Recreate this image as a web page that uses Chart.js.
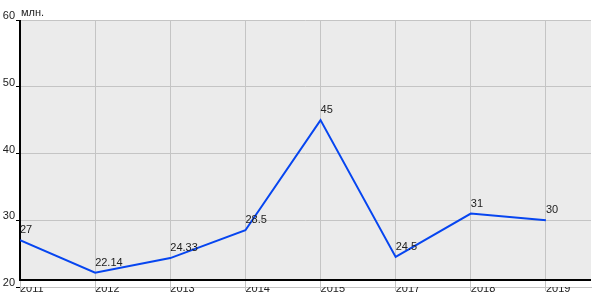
<!DOCTYPE html>
<html>
<head>
<meta charset="utf-8">
<script src="https://cdn.jsdelivr.net/npm/chart.js"></script>
<style>
  html, body { margin: 0; padding: 0; background: #fff; }
  #wrap { width: 600px; height: 300px; }
</style>
</head>
<body>
<div id="wrap"><canvas id="chart"></canvas></div>
<script>
// chart data
const years = ['2011', '2012', '2013', '2014', '2015', '2017', '2018', '2019'];
const values = [27, 22.14, 24.33, 28.5, 45, 24.5, 31, 30];
const valueLabels = ['27', '22.14', '24.33', '28.5', '45', '24.5', '31', '30'];
const yTicks = [20, 30, 40, 50, 60];
const unitLabel = 'млн.';

const FONT = 'Arial, "Liberation Sans", sans-serif';

// plot background, black axis lines, unit label and point labels
const decor = {
    id: 'decor',
    beforeDraw(chart) {
        const { ctx, chartArea: a } = chart;
        ctx.save();
        ctx.fillStyle = '#ebebeb';
        ctx.fillRect(a.left, a.top, a.right - a.left, a.bottom - 7 - a.top);
        ctx.restore();
    },
    beforeDatasetsDraw(chart) {
        const { ctx, chartArea: a } = chart;
        ctx.save();
        ctx.strokeStyle = '#000';
        ctx.lineWidth = 2;
        ctx.beginPath();
        ctx.moveTo(a.left, a.top);
        ctx.lineTo(a.left, a.bottom - 7);
        ctx.lineTo(a.right, a.bottom - 7);
        ctx.stroke();
        ctx.restore();
    },
    afterDraw(chart) {
        const { ctx, chartArea: a } = chart;
        ctx.save();
        ctx.font = '11px ' + FONT;
        ctx.fillStyle = '#222';
        ctx.textAlign = 'left';
        ctx.textBaseline = 'alphabetic';
        ctx.fillText(unitLabel, a.left + 1, a.top - 4);
        const meta = chart.getDatasetMeta(0);
        meta.data.forEach((pt, i) => {
            ctx.fillText(valueLabels[i], pt.x, pt.y - 7);
        });
        ctx.restore();
    }
};

new Chart(document.getElementById('chart'), {
    type: 'line',
    data: {
        datasets: [{
            data: values.map((v, i) => ({ x: i, y: v })),
            borderColor: '#0645f0',
            borderWidth: 2,
            pointRadius: 0,
            tension: 0,
            fill: false
        }]
    },
    options: {
        responsive: true,
        maintainAspectRatio: false,
        animation: false,
        layout: { padding: { top: 20, right: 9, left: 0, bottom: 0 } },
        plugins: { legend: { display: false }, tooltip: { enabled: false } },
        scales: {
            x: {
                type: 'linear',
                min: 0,
                max: 7.6,
                afterBuildTicks: (s) => { s.ticks = years.map((_, i) => ({ value: i })); },
                afterFit: (s) => { s.height = 13; },
                border: { display: true, color: '#c4c4c4', width: 1 },
                grid: { color: '#c4c4c4', tickLength: 4, tickColor: '#c4c4c4' },
                ticks: {
                    align: 'start',
                    maxRotation: 0,
                    autoSkip: false,
                    padding: -9,
                    color: '#222',
                    font: { family: FONT, size: 11 },
                    callback: (v) => years[v]
                }
            },
            y: {
                min: 20,
                max: 60,
                afterBuildTicks: (s) => { s.ticks = yTicks.map(v => ({ value: v })); },
                afterFit: (s) => { s.width = 20; },
                border: { display: false },
                grid: { color: '#c4c4c4', tickLength: 4, tickColor: '#000' },
                ticks: {
                    padding: 1,
                    labelOffset: -4,
                    color: '#222',
                    font: { family: FONT, size: 11 }
                }
            }
        }
    },
    plugins: [decor]
});
</script>
</body>
</html>
